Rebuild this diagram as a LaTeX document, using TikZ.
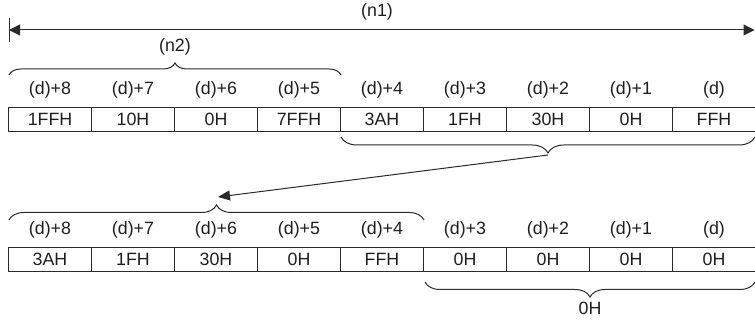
\documentclass[tikz,border=0pt]{standalone}
\usepackage{fontspec}
\setmainfont{Liberation Sans}
\usetikzlibrary{arrows.meta,decorations.pathreplacing}
\definecolor{linec}{HTML}{2B2B2B}
\definecolor{txtc}{HTML}{1E1E1E}
\begin{document}
\begin{tikzpicture}[x=1pt,y=-1pt,
  txt/.style={font=\fontsize{17.8}{20}\selectfont, text=txtc},
  cell/.style={txt, draw=linec, line width=1.1pt, minimum width=83pt, minimum height=23.5pt, inner sep=0pt},
  lbl/.style={txt, inner sep=0pt},
  brc/.style={decorate, decoration={brace, amplitude=#1}, draw=linec, line width=1pt},
  conn/.style={draw=linec, line width=1pt}
  ]
\useasboundingbox (0,0) rectangle (755,320);

% top (n1) arrow
\node[lbl] (n1) at (377,12) {(n1)};
\coordinate (L) at (9,30);
\coordinate (R) at (754.5,30);
\coordinate (barT) at (9,18);
\coordinate (barB) at (9,42);
\draw[conn, {Triangle[length=11pt,width=11pt]}-{Triangle[length=11pt,width=11pt]}] (L) -- (R);
\draw[conn] (barT) -- (barB);

% (n2) brace
\draw[brc=12pt] (9,75) -- (341,75);
\node[lbl] (n2) at (175,47) {(n2)};

% row 1
\foreach \i/\lab/\val in {0/(d)+8/1FFH,1/(d)+7/10H,2/(d)+6/0H,3/(d)+5/7FFH,4/(d)+4/3AH,5/(d)+3/1FH,6/(d)+2/30H,7/(d)+1/0H,8/(d)/FFH}{
  \node[cell] (a\i) at (50+83*\i,119.5) {\val};
  \node[lbl] (la\i) at (50+83*\i,90) {\lab};
}

% brace under row 1
\draw[brc=16pt] (755,137) -- (341,137);
\coordinate (s1) at (548,155);
\coordinate (s2) at (218,197);
\draw[conn, -{Triangle[length=12pt,width=10pt]}] (s1) -- (s2);

% brace above row 2
\draw[brc=15pt] (9,220) -- (424,220);

% row 2
\foreach \i/\lab/\val in {0/(d)+8/3AH,1/(d)+7/1FH,2/(d)+6/30H,3/(d)+5/0H,4/(d)+4/FFH,5/(d)+3/0H,6/(d)+2/0H,7/(d)+1/0H,8/(d)/0H}{
  \node[cell] (b\i) at (50+83*\i,259.5) {\val};
  \node[lbl] (lb\i) at (50+83*\i,230) {\lab};
}

% bottom brace
\draw[brc=15pt] (755,282) -- (425,282);
\node[lbl] (z) at (590,308) {0H};
\end{tikzpicture}
\end{document}
